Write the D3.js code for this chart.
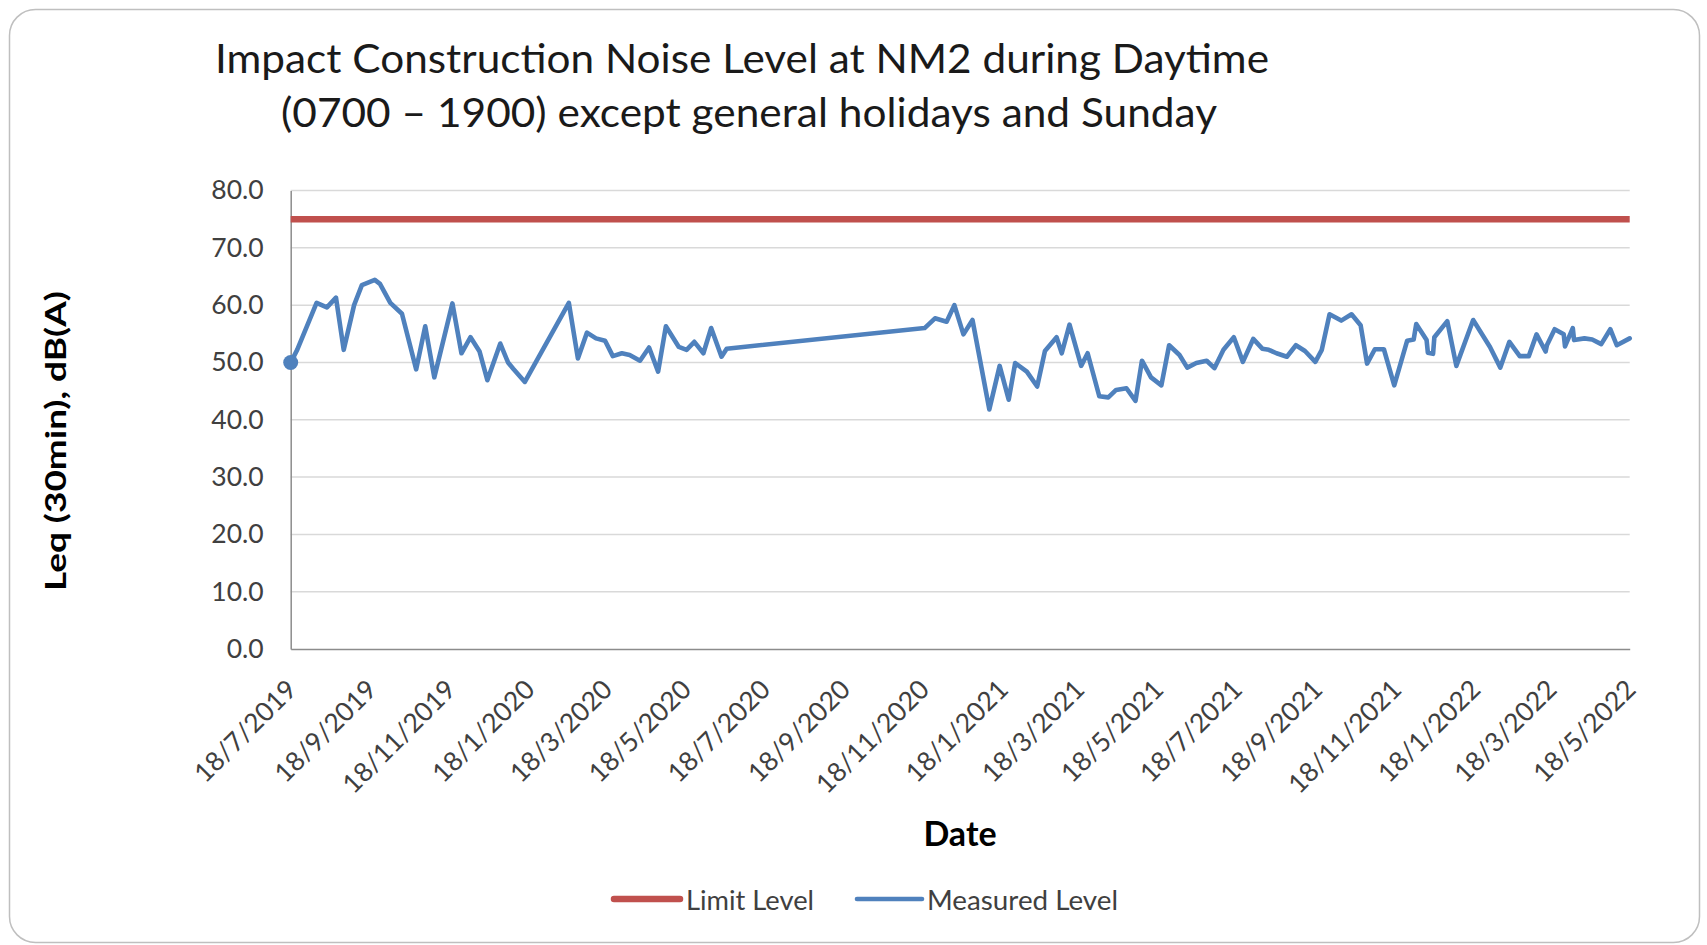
<!DOCTYPE html>
<html>
<head>
<meta charset="utf-8">
<script src="https://cdn.jsdelivr.net/npm/d3@7"></script>
<style>
  html, body { margin: 0; padding: 0; background: #ffffff; }
  svg { display: block; }
  text { font-family: Lato, "Open Sans", "Noto Sans", sans-serif; }
</style>
</head>
<body>
<svg id="chart" width="1707" height="945"></svg>
<script>
// ---------------- DATA ----------------
const titleLines = [
  "Impact Construction Noise Level at NM2 during Daytime",
  "(0700 \u2013 1900) except general holidays and Sunday"
];
const yAxisTitle = "Leq (30min), dB(A)";
const xAxisTitle = "Date";
const seriesNames = ["Limit Level", "Measured Level"];

const xDomain = ["18/7/2019", "18/5/2022"];
const xTickLabels = ["18/7/2019","18/9/2019","18/11/2019","18/1/2020","18/3/2020","18/5/2020",
  "18/7/2020","18/9/2020","18/11/2020","18/1/2021","18/3/2021","18/5/2021","18/7/2021",
  "18/9/2021","18/11/2021","18/1/2022","18/3/2022","18/5/2022"];
const yTickValues = [0, 10, 20, 30, 40, 50, 60, 70, 80];

const limitLevel = 75;

const measureDates = [
  "2019-07-18","2019-07-23","2019-08-07","2019-08-15","2019-08-22","2019-08-28","2019-09-05","2019-09-11",
  "2019-09-21","2019-09-25","2019-10-03","2019-10-12","2019-10-23","2019-10-30","2019-11-06","2019-11-20",
  "2019-11-27","2019-12-04","2019-12-11","2019-12-17","2019-12-27","2020-01-02","2020-01-06","2020-01-15",
  "2020-02-18","2020-02-25","2020-03-03","2020-03-10","2020-03-17","2020-03-23","2020-03-30","2020-04-05",
  "2020-04-13","2020-04-20","2020-04-27","2020-05-03","2020-05-13","2020-05-19","2020-05-25","2020-06-01",
  "2020-06-07","2020-06-15","2020-06-19","2020-11-19","2020-11-27","2020-12-06","2020-12-12","2020-12-19",
  "2020-12-26","2021-01-08","2021-01-16","2021-01-23","2021-01-28","2021-02-06","2021-02-14","2021-02-20",
  "2021-03-01","2021-03-05","2021-03-11","2021-03-20","2021-03-25","2021-04-03","2021-04-10","2021-04-16",
  "2021-04-24","2021-05-01","2021-05-06","2021-05-13","2021-05-21","2021-05-27","2021-06-04","2021-06-10",
  "2021-06-17","2021-06-25","2021-07-01","2021-07-08","2021-07-16","2021-07-23","2021-07-31","2021-08-07",
  "2021-08-12","2021-08-18","2021-08-26","2021-09-02","2021-09-09","2021-09-17","2021-09-22","2021-09-28",
  "2021-10-07","2021-10-15","2021-10-22","2021-10-27","2021-11-02","2021-11-09","2021-11-17","2021-11-27",
  "2021-12-02","2021-12-04","2021-12-12","2021-12-13","2021-12-17","2021-12-18","2021-12-28","2022-01-04",
  "2022-01-17","2022-01-30","2022-02-07","2022-02-14","2022-02-22","2022-03-01","2022-03-07","2022-03-14",
  "2022-03-15","2022-03-21","2022-03-28","2022-03-29","2022-04-04","2022-04-05","2022-04-13","2022-04-19",
  "2022-04-26","2022-05-03","2022-05-08","2022-05-18"
];
const measureValues = [
  50.0,52.2,60.4,59.6,61.3,52.2,60.0,63.5,
  64.4,63.7,60.4,58.5,48.8,56.3,47.4,60.3,
  51.6,54.4,51.9,46.9,53.3,50.0,48.9,46.6,
  60.4,50.7,55.2,54.2,53.8,51.1,51.6,51.3,
  50.3,52.6,48.4,56.3,52.7,52.2,53.6,51.6,
  56.0,51.0,52.4,56.0,57.7,57.1,60.0,54.9,
  57.4,41.8,49.4,43.5,49.9,48.4,45.8,52.0,
  54.4,51.6,56.6,49.4,51.6,44.1,43.9,45.2,
  45.5,43.3,50.3,47.4,46.0,53.0,51.3,49.1,
  49.9,50.3,49.0,52.2,54.4,50.1,54.1,52.4,
  52.2,51.6,51.0,53.0,52.0,50.1,52.2,58.4,
  57.3,58.4,56.5,49.8,52.3,52.3,46.0,53.8,
  54.0,56.7,53.9,51.7,51.5,54.4,57.2,49.4,
  57.4,52.7,49.1,53.6,51.1,51.1,54.9,51.9,
  53.0,55.8,54.9,52.8,56.0,53.9,54.2,54.0,
  53.2,55.8,53.0,54.2
];

// ---------------- CHART ----------------
const plot = { left: 290.7, right: 1629.7, top: 190.5, bottom: 649 };
const colors = { limit: "#C0504D", measured: "#4F81BD", grid: "#D9D9D9", axis: "#8C8C8C", tick: "#404040" };

const svg = d3.select("#chart");
const parseTick = d3.timeParse("%d/%m/%Y");
const parseISO = d3.timeParse("%Y-%m-%d");

// outer chart border
svg.append("rect")
  .attr("x", 9.5).attr("y", 9.5)
  .attr("width", 1690).attr("height", 933)
  .attr("rx", 26).attr("ry", 26)
  .attr("fill", "#ffffff")
  .attr("stroke", "#BFBFBF").attr("stroke-width", 1.5);

const x = d3.scaleTime()
  .domain(xDomain.map(parseTick))
  .range([plot.left, plot.right]);
const y = d3.scaleLinear()
  .domain([d3.min(yTickValues), d3.max(yTickValues)])
  .range([plot.bottom, plot.top]);

// gridlines
svg.append("g")
  .selectAll("line")
  .data(yTickValues.filter(v => v > 0))
  .join("line")
  .attr("x1", plot.left).attr("x2", plot.right)
  .attr("y1", d => y(d)).attr("y2", d => y(d))
  .attr("stroke", colors.grid).attr("stroke-width", 1.5);

// y axis
const yAxis = d3.axisLeft(y).tickValues(yTickValues).tickFormat(d3.format(".1f")).tickSize(0).tickPadding(27);
const gy = svg.append("g").attr("transform", `translate(${plot.left},0)`).call(yAxis);
gy.select(".domain").attr("stroke", colors.axis).attr("stroke-width", 1.5);
gy.selectAll("text")
  .attr("fill", colors.tick)
  .style("font-size", "26.5px")
  .style("font-family", "Lato, 'Open Sans', sans-serif");

// x axis
const xTicks = xTickLabels.map(parseTick);
const xAxis = d3.axisBottom(x).tickValues(xTicks).tickFormat(d3.timeFormat("%-d/%-m/%Y")).tickSize(0);
const gx = svg.append("g").attr("transform", `translate(0,${plot.bottom})`).call(xAxis);
gx.select(".domain").attr("stroke", colors.axis).attr("stroke-width", 1.5);
gx.selectAll(".tick text")
  .attr("fill", colors.tick)
  .style("font-size", "26.5px")
  .style("font-family", "Lato, 'Open Sans', sans-serif")
  .attr("text-anchor", "end")
  .attr("dominant-baseline", "central")
  .attr("y", 0).attr("dy", null)
  .attr("transform", "translate(0,35) rotate(-45)");

// limit line
const limitData = x.domain().map(d => ({ date: d, value: limitLevel }));
const lineGen = d3.line().x(d => x(d.date)).y(d => y(d.value));
svg.append("path")
  .datum(limitData)
  .attr("d", lineGen)
  .attr("fill", "none")
  .attr("stroke", colors.limit)
  .attr("stroke-width", 6.5);

// measured line
const measured = measureDates.map((d, i) => ({ date: parseISO(d), value: measureValues[i] }));
svg.append("path")
  .datum(measured)
  .attr("d", lineGen)
  .attr("fill", "none")
  .attr("stroke", colors.measured)
  .attr("stroke-width", 4.6)
  .attr("stroke-linejoin", "round")
  .attr("stroke-linecap", "round");

// first point marker
svg.append("circle")
  .attr("cx", x(measured[0].date))
  .attr("cy", y(measured[0].value))
  .attr("r", 7.5)
  .attr("fill", colors.measured);

// titles
svg.append("text")
  .attr("x", 742).attr("y", 73)
  .attr("text-anchor", "middle")
  .attr("textLength", 1054).attr("lengthAdjust", "spacingAndGlyphs")
  .style("font-size", "40px").attr("fill", "#1a1a1a")
  .text(titleLines[0]);
svg.append("text")
  .attr("x", 749).attr("y", 127)
  .attr("text-anchor", "middle")
  .attr("textLength", 936).attr("lengthAdjust", "spacingAndGlyphs")
  .style("font-size", "40px").attr("fill", "#1a1a1a")
  .text(titleLines[1]);

svg.append("text")
  .attr("transform", "translate(66,441) rotate(-90)")
  .attr("text-anchor", "middle")
  .attr("textLength", 300).attr("lengthAdjust", "spacingAndGlyphs")
  .style("font-size", "29px").style("font-weight", "bold").attr("fill", "#000")
  .text(yAxisTitle);

svg.append("text")
  .attr("x", 960).attr("y", 846)
  .attr("text-anchor", "middle")
  .style("font-size", "34px").style("font-weight", "bold").attr("fill", "#000")
  .text(xAxisTitle);

// legend
const legend = [
  { name: seriesNames[0], color: colors.limit, width: 6.5, x1: 614, x2: 680, tx: 686, len: 128 },
  { name: seriesNames[1], color: colors.measured, width: 4.6, x1: 857, x2: 922, tx: 927, len: 191 }
];
const lg = svg.append("g");
lg.selectAll("line").data(legend).join("line")
  .attr("x1", d => d.x1).attr("x2", d => d.x2)
  .attr("y1", 899).attr("y2", 899)
  .attr("stroke", d => d.color).attr("stroke-width", d => d.width)
  .attr("stroke-linecap", "round");
lg.selectAll("text").data(legend).join("text")
  .attr("x", d => d.tx).attr("y", 899)
  .attr("dominant-baseline", "central")
  .attr("textLength", d => d.len).attr("lengthAdjust", "spacingAndGlyphs")
  .style("font-size", "27px").attr("fill", colors.tick)
  .text(d => d.name);
</script>
</body>
</html>
